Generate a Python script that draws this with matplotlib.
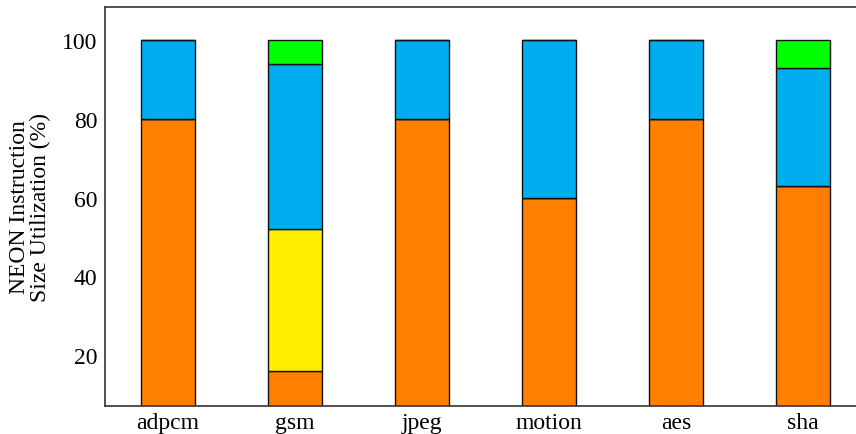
import matplotlib.pyplot as plt
import numpy as np

benchmarks = ["adpcm", "gsm", "jpeg", "motion", "aes", "sha"]
orange = [80, 16, 80, 60, 80, 63]
yellow = [0, 36, 0, 0, 0, 0]
blue = [20, 42, 20, 40, 20, 30]
green = [0, 6, 0, 0, 0, 7]

plt.rcParams["font.family"] = ["Liberation Serif", "DejaVu Serif"]

fig = plt.figure(figsize=(8.56, 4.35), dpi=100)
ax = fig.add_axes([104.5 / 856, 28 / 435, 762 / 856, 399 / 435])

x = np.arange(len(benchmarks))
w = 0.425
bottom = np.zeros(len(benchmarks))
for vals, col in [(orange, "#FF8000"), (yellow, "#FFEE00"), (blue, "#00AEEF"), (green, "#00FF00")]:
    vals = np.array(vals, dtype=float)
    ax.bar(x, vals, w, bottom=bottom, color=col, edgecolor="#111111", linewidth=1.0)
    bottom += vals

ax.set_xlim(-0.5, 5.5)
ax.set_ylim(7.05, 108.4)
ax.set_yticks([20, 40, 60, 80, 100])
ax.set_xticks(x)
ax.set_xticklabels(benchmarks)
ax.tick_params(axis="y", length=0, labelsize=17, pad=5)
ax.tick_params(axis="x", length=0, labelsize=17, pad=4)
for s in ["left", "top", "bottom"]:
    ax.spines[s].set_color("#333333")
    ax.spines[s].set_linewidth(1.2)
ax.spines["right"].set_visible(False)
ax.set_ylabel("NEON Instruction\nSize Utilization (%)", fontsize=17, labelpad=8,
              linespacing=1.0)

fig.savefig("out.png", dpi=100)
